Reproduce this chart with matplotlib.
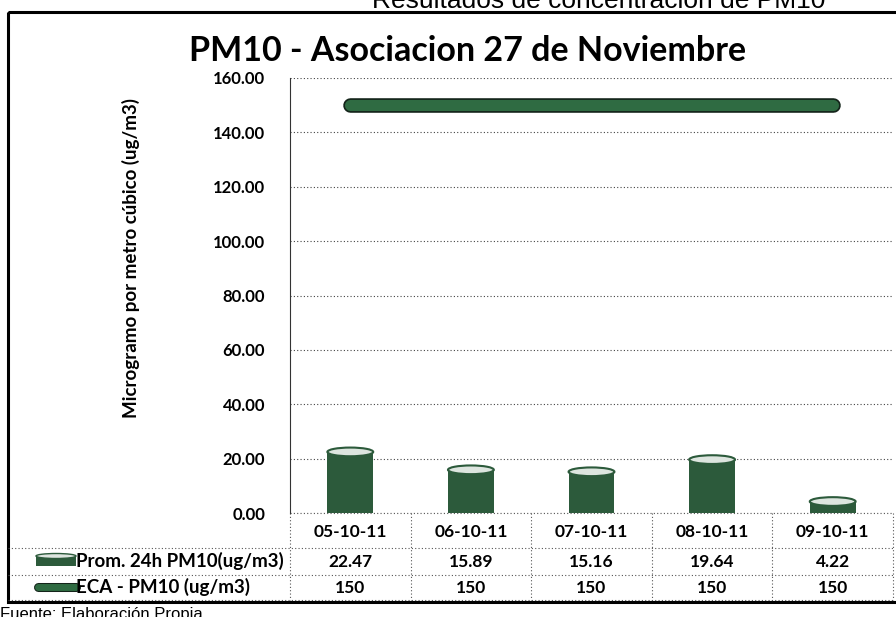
import numpy as np
import matplotlib.pyplot as plt
import matplotlib.patheffects as pe
from matplotlib.patches import Ellipse, Rectangle
from matplotlib import transforms

# datos
fechas = ['05-10-11', '06-10-11', '07-10-11', '08-10-11', '09-10-11']
prom_pm10 = [22.47, 15.89, 15.16, 19.64, 4.22]
eca_pm10 = [150, 150, 150, 150, 150]
y_ticks = np.arange(0, 161, 20)

serie_prom = 'Prom. 24h PM10(ug/m3)'
serie_eca = 'ECA - PM10 (ug/m3)'

verde = '#2c5a3b'
verde_linea = '#2f6b42'
W, H = 896, 617
fuente = 'Lato'

fig = plt.figure(figsize=(W / 100, H / 100), dpi=100)

# capa de fondo en pixeles (marco, tabla, textos)
ov = fig.add_axes([0, 0, 1, 1], zorder=0)
ov.set_xlim(0, W)
ov.set_ylim(H, 0)
ov.axis('off')

# area de trazado
ax = fig.add_axes([290 / W, 1 - 513 / H, 603 / W, 435 / H], zorder=1)
ax.patch.set_alpha(0)
x = np.arange(len(fechas))
ancho = 0.38
ax.bar(x, prom_pm10, width=ancho, color=verde, zorder=3)
for xi, v in zip(x, prom_pm10):
    ax.add_patch(Ellipse((xi, v), ancho, 3.2, facecolor='#dde5df',
                         edgecolor=verde, lw=1.5, zorder=4))
ax.plot(x, eca_pm10, color=verde_linea, lw=8, solid_capstyle='round', zorder=5,
        path_effects=[pe.Stroke(linewidth=10.5, foreground='#14241a'), pe.Normal()])
ax.set_xlim(-0.5, 4.5)
ax.set_ylim(0, 160)
ax.set_xticks([])
ax.set_yticks(y_ticks)
ax.set_yticklabels([f'{t:.2f}' for t in y_ticks], fontsize=12,
                   fontweight='bold', family=fuente)
ax.tick_params(axis='y', length=0, pad=18)
ax.yaxis.grid(True, linestyle=(0, (1, 2)), color='#444444', lw=0.8)
for s in ['top', 'right', 'bottom']:
    ax.spines[s].set_visible(False)
ax.spines['left'].set_linestyle((0, (2, 1)))
ax.spines['left'].set_color('#333333')

# marco exterior
ov.add_patch(Rectangle((8, 12), W, 590, fill=False, lw=2.2, edgecolor='black'))

# titulo y textos
ov.text(468, 51, 'PM10 - Asociacion 27 de Noviembre', ha='center', va='center',
        fontsize=24.5, fontweight='bold', family=fuente)
ov.text(131, 258, 'Microgramo por metro cúbico (ug/m3)', rotation=90,
        ha='center', va='center', fontsize=13.5, fontweight='bold', family=fuente)
ov.text(825, 8, 'Resultados de concentración de PM10', ha='right', va='baseline',
        fontsize=19, family='Liberation Sans')
ov.text(0, 619, 'Fuente: Elaboración Propia', ha='left', va='baseline',
        fontsize=12, family='Liberation Sans')

# tabla de datos
tr = transforms.blended_transform_factory(ax.transData, ov.transData)
lineas = dict(color='#555555', lw=0.8, linestyle=(0, (1, 2)))
bordes = np.arange(len(fechas) + 1) - 0.5
for b in bordes:
    ov.plot([b, b], [513, 600], transform=tr, **lineas)
ov.plot([290, 893], [513, 513], **lineas)
for yy in [548, 575, 600]:
    ov.plot([8, 893], [yy, yy], **lineas)

for xi, f, p, e in zip(x, fechas, prom_pm10, eca_pm10):
    ov.text(xi, 532, f, transform=tr, ha='center', va='center',
            fontsize=12.5, fontweight='bold', family=fuente)
    ov.text(xi, 562, f'{p:.2f}', transform=tr, ha='center', va='center',
            fontsize=12.5, fontweight='bold', family=fuente)
    ov.text(xi, 588, f'{e}', transform=tr, ha='center', va='center',
            fontsize=12.5, fontweight='bold', family=fuente)

ov.text(76, 561, serie_prom, ha='left', va='center', fontsize=13.5,
        fontweight='bold', family=fuente)
ov.text(76, 587, serie_eca, ha='left', va='center', fontsize=13.5,
        fontweight='bold', family=fuente)

# claves de la leyenda
ov.add_patch(Rectangle((36, 555), 40, 11, facecolor=verde, edgecolor='none'))
ov.add_patch(Ellipse((56, 556), 40, 5, facecolor='#dde5df', edgecolor=verde, lw=1))
ov.plot([38, 76], [587, 587], color=verde_linea, lw=5, solid_capstyle='round',
        path_effects=[pe.Stroke(linewidth=6.5, foreground='#14241a'), pe.Normal()])

fig.savefig('out.png', dpi=100)
